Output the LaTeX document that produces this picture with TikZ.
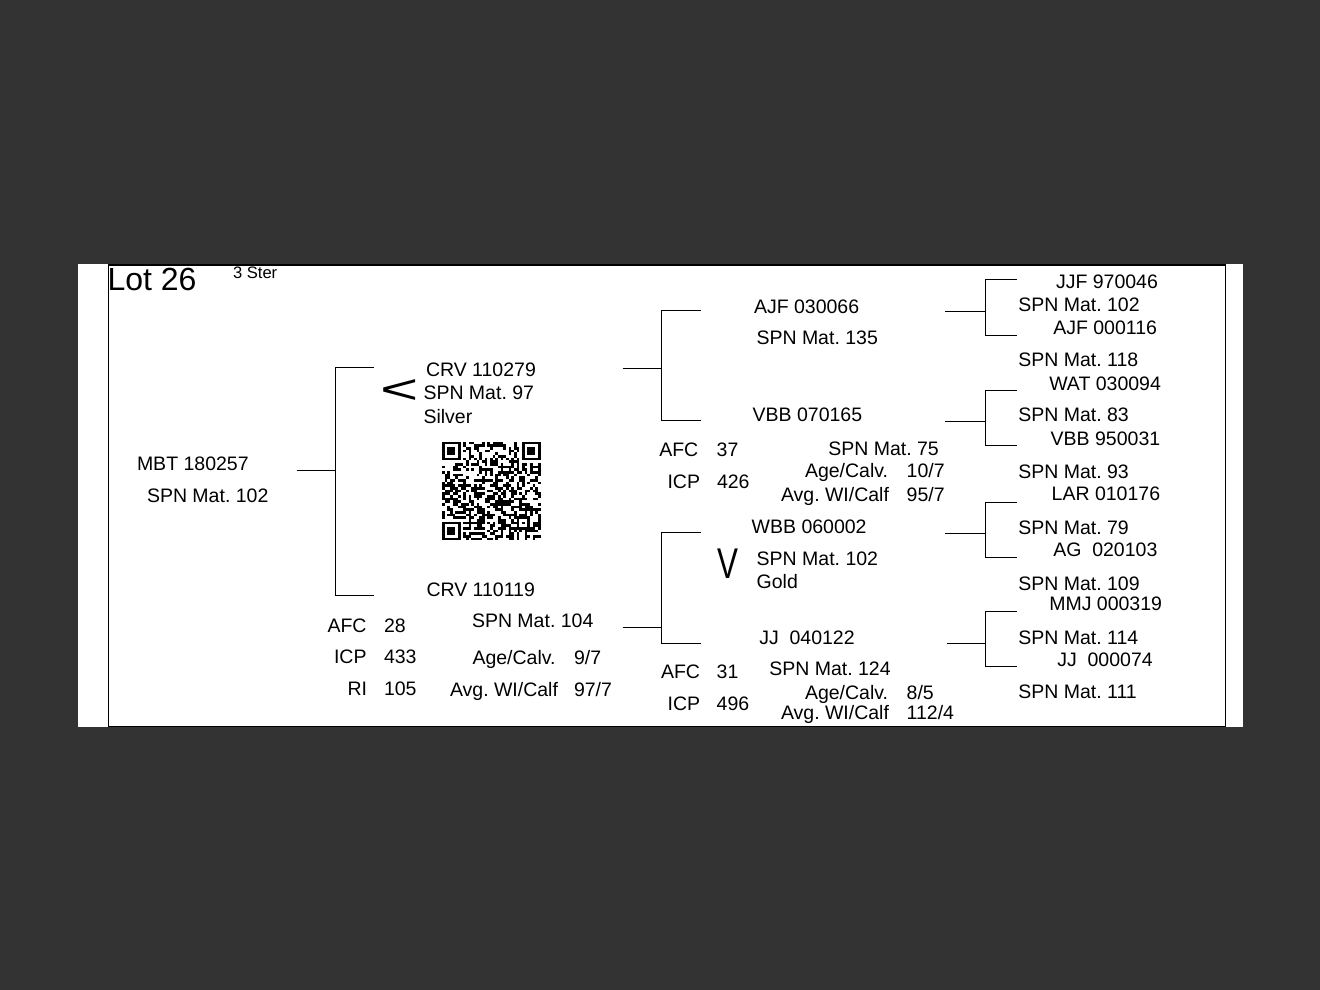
\documentclass[tikz,border=0pt]{standalone}
\usepackage{fontspec}
\setmainfont{Liberation Sans}
\usepackage{graphicx}
\definecolor{bgdark}{HTML}{333333}
\tikzset{
  lbl/.style={anchor=base west, inner sep=0pt, outer sep=0pt, font=\fontsize{19.5}{22}\selectfont},
  wire/.style={line width=1.1pt, black},
  frame/.style={line width=1.3pt, black},
}
\newcommand{\qm}{2.67}
\frenchspacing
\begin{document}
\frenchspacing
\begin{tikzpicture}[x=1pt,y=-1pt]
\useasboundingbox (0,0) rectangle (1320,990);
\fill[bgdark] (0,0) rectangle (1320,990);
\fill[white] (78,264.3) rectangle (1243,727.3);
\draw[frame] (108.3,265) rectangle (1225.3,726.5);

% header
\node[lbl, font=\fontsize{32}{35}\selectfont] (lot) at (107.5,290.5) {Lot 26};
\node[lbl, font=\fontsize{16.6}{18}\selectfont] (ster) at (233,278.3) {3 Ster};

% animal
\node[lbl] (mbt) at (137,470.5) {MBT 180257};
\node[lbl] (mbtspn) at (147,502) {SPN Mat. 102};

% generation 1 -- sire
\node[inner sep=0pt, font=\fontsize{41}{44}\selectfont] (lt) at (400,392) {\scalebox{1.6}[1]{<}};
\node[lbl] (crv1) at (426,376.5) {CRV 110279};
\node[lbl] (crv1spn) at (423.5,399.5) {SPN Mat. 97};
\node[lbl] (crv1cls) at (423.5,423) {Silver};

% generation 1 -- dam
\node[lbl] (crv2) at (426.5,596.5) {CRV 110119};
\node[lbl] (d1afc) at (327.5,632.5) {AFC};
\node[lbl] (d1afcv) at (384,632.5) {28};
\node[lbl] (d1icp) at (334,663.5) {ICP};
\node[lbl] (d1icpv) at (384,663.5) {433};
\node[lbl] (d1ri) at (347.5,695.5) {RI};
\node[lbl] (d1riv) at (384,695.5) {105};
\node[lbl] (d1spn) at (472,627.5) {SPN Mat. 104};
\node[lbl] (d1age) at (472.5,664) {Age/Calv.};
\node[lbl] (d1agev) at (574,664) {9/7};
\node[lbl] (d1wt) at (450,696) {Avg. WI/Calf};
\node[lbl] (d1wtv) at (574,696) {97/7};

% generation 2 -- top
\node[lbl] (ajf) at (754,313) {AJF 030066};
\node[lbl] (ajfspn) at (756.5,344) {SPN Mat. 135};
\node[lbl] (vbb) at (752.7,421.7) {VBB 070165};
\node[lbl] (d2afc) at (659.3,456.5) {AFC};
\node[lbl] (d2afcv) at (716.7,456.5) {37};
\node[lbl] (d2icp) at (667.5,488.3) {ICP};
\node[lbl] (d2icpv) at (717,488.3) {426};
\node[lbl] (d2spn) at (828.3,455) {SPN Mat. 75};
\node[lbl] (d2age) at (805,477.7) {Age/Calv.};
\node[lbl] (d2agev) at (906.7,477.7) {10/7};
\node[lbl] (d2wt) at (781,501.7) {Avg. WI/Calf};
\node[lbl] (d2wtv) at (906.7,501.7) {95/7};

% generation 2 -- bottom
\node[lbl] (wbb) at (751.7,533.3) {WBB 060002};
\node[inner sep=0pt, font=\fontsize{43}{46}\selectfont] (vv) at (727.8,563.5) {\scalebox{0.73}[1]{V}};
\node[lbl] (wbbspn) at (756.7,565) {SPN Mat. 102};
\node[lbl] (wbbcls) at (756.7,588.3) {Gold};
\node[lbl] (jj1) at (759.3,644) {JJ\ \ 040122};
\node[lbl] (d3afc) at (661,678.3) {AFC};
\node[lbl] (d3afcv) at (716.7,678.3) {31};
\node[lbl] (d3icp) at (667.7,710) {ICP};
\node[lbl] (d3icpv) at (716.7,710) {496};
\node[lbl] (d3spn) at (769.3,675.7) {SPN Mat. 124};
\node[lbl] (d3age) at (805,699) {Age/Calv.};
\node[lbl] (d3agev) at (906.7,699) {8/5};
\node[lbl] (d3wt) at (781,719) {Avg. WI/Calf};
\node[lbl] (d3wtv) at (906.7,719) {112/4};

% generation 3
\node[lbl] (g1) at (1056,288.3) {JJF 970046};
\node[lbl] (g1s) at (1018.3,311.7) {SPN Mat. 102};
\node[lbl] (g2) at (1053.3,334.3) {AJF 000116};
\node[lbl] (g2s) at (1018.3,366.7) {SPN Mat. 118};
\node[lbl] (g3) at (1049.3,390.7) {WAT 030094};
\node[lbl] (g3s) at (1018.3,421.7) {SPN Mat. 83};
\node[lbl] (g4) at (1050.7,445.7) {VBB 950031};
\node[lbl] (g4s) at (1018.3,478.3) {SPN Mat. 93};
\node[lbl] (g5) at (1051.7,500.7) {LAR 010176};
\node[lbl] (g5s) at (1018.3,534) {SPN Mat. 79};
\node[lbl] (g6) at (1053.3,556.7) {AG\ \ 020103};
\node[lbl] (g6s) at (1018.3,590) {SPN Mat. 109};
\node[lbl] (g7) at (1049.3,610.7) {MMJ 000319};
\node[lbl] (g7s) at (1018.3,644) {SPN Mat. 114};
\node[lbl] (g8) at (1057.3,666.7) {JJ\ \ 000074};
\node[lbl] (g8s) at (1018.3,698.3) {SPN Mat. 111};

% bracket coordinates
\coordinate (b1in) at (296.5,470.5); \coordinate (b1j) at (335.5,470.5);
\coordinate (b1t) at (374,367.5); \coordinate (b1b) at (374,595.5);
\coordinate (b2in) at (622.5,368.5); \coordinate (b2j) at (661.5,368.5);
\coordinate (b2t) at (701,310.5); \coordinate (b2b) at (701,420.5);
\coordinate (b3in) at (622.5,627.5); \coordinate (b3j) at (661.5,627.5);
\coordinate (b3t) at (701,532.5); \coordinate (b3b) at (701,643.5);
\coordinate (b4in) at (945,311.5); \coordinate (b4j) at (985.5,311.5);
\coordinate (b4t) at (1017,279.5); \coordinate (b4b) at (1017,335.5);
\coordinate (b5in) at (945,421.5); \coordinate (b5j) at (985.5,421.5);
\coordinate (b5t) at (1017,390.5); \coordinate (b5b) at (1017,445.5);
\coordinate (b6in) at (945,533.5); \coordinate (b6j) at (985.5,533.5);
\coordinate (b6t) at (1017,502.5); \coordinate (b6b) at (1017,557.5);
\coordinate (b7in) at (947,643.5); \coordinate (b7j) at (985.5,643.5);
\coordinate (b7t) at (1017,611.5); \coordinate (b7b) at (1017,666.5);

\foreach \b in {1,...,7}{
  \draw[wire] (b\b in) -- (b\b j);
  \draw[wire] (b\b t) -| (b\b j) |- (b\b b);
}

% QR code
\begin{scope}[shift={(442,441.5)}]
  \pgfmathsetseed{2611}
  \foreach \i in {0,...,36}{
    \foreach \j in {0,...,36}{
      \pgfmathtruncatemacro\sk{((\i<8)&&(\j<8)) || ((\i>28)&&(\j<8)) || ((\i<8)&&(\j>28)) || ((\i>27)&&(\i<33)&&(\j>27)&&(\j<33)) || (\i==6) || (\j==6)}
      \ifnum\sk=0
        \pgfmathsetmacro\rr{rnd}
        \ifdim\rr pt<0.5pt
          \fill[black] (\i*\qm,\j*\qm) rectangle ++(\qm,\qm);
        \fi
      \fi
    }
  }
  \foreach \fx/\fy in {0/0,30/0,0/30}{
    \fill[black] (\fx*\qm,\fy*\qm) rectangle ++(7*\qm,7*\qm);
    \fill[white] (\fx*\qm+\qm,\fy*\qm+\qm) rectangle ++(5*\qm,5*\qm);
    \fill[black] (\fx*\qm+2*\qm,\fy*\qm+2*\qm) rectangle ++(3*\qm,3*\qm);
  }
  \foreach \k in {8,10,...,28}{
    \fill[black] (\k*\qm,6*\qm) rectangle ++(\qm,\qm);
    \fill[black] (6*\qm,\k*\qm) rectangle ++(\qm,\qm);
  }
  \fill[black] (28*\qm,28*\qm) rectangle ++(5*\qm,5*\qm);
  \fill[white] (29*\qm,29*\qm) rectangle ++(3*\qm,3*\qm);
  \fill[black] (30*\qm,30*\qm) rectangle ++(\qm,\qm);
\end{scope}
\end{tikzpicture}
\end{document}
